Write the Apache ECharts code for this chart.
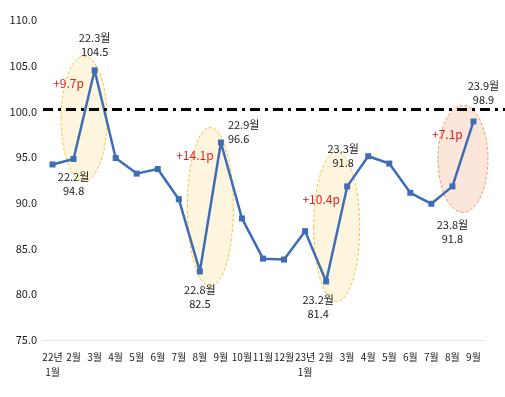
<!DOCTYPE html>
<html>
<head>
<meta charset="utf-8">
<script src="https://cdn.jsdelivr.net/npm/echarts@6/dist/echarts.min.js"></script>
<style>
html, body { margin: 0; padding: 0; background: #fff; }
#main { width: 505px; height: 397px; }
</style>
</head>
<body>
<div id="main"></div>
<script>
// 월별 지수 (22.1 ~ 23.9)
var months = ['22.1','22.2','22.3','22.4','22.5','22.6','22.7','22.8','22.9','22.10','22.11','22.12',
              '23.1','23.2','23.3','23.4','23.5','23.6','23.7','23.8','23.9'];
var xLabels = ['22년\n1월','2월','3월','4월','5월','6월','7월','8월','9월','10월','11월','12월',
               '23년\n1월','2월','3월','4월','5월','6월','7월','8월','9월'];
var values = [94.2, 94.8, 104.5, 94.9, 93.2, 93.7, 90.4, 82.5, 96.6, 88.3, 83.9, 83.8,
              86.9, 81.4, 91.8, 95.1, 94.3, 91.1, 89.9, 91.8, 98.9];
var yMin = 75, yMax = 110, yStep = 5;
var baseLine = 100;
// 급등 구간 (저점 index) 과 상승폭
var jumpFrom = [1, 7, 13, 19];
var jumpText = ['+9.7p', '+14.1p', '+10.4p', '+7.1p'];
var labeled = [1, 2, 7, 8, 13, 14, 19, 20];

var FONT = "'Noto Sans CJK KR', sans-serif";
var BLUE = '#3f6db5';

// 라벨 위치
var labelPlace = {
	1:  { position: 'bottom', distance: 8 },
	2:  { position: 'top', distance: 8 },
	7:  { position: 'bottom', distance: 8 },
	8:  { position: 'right', distance: 4, offset: [0, -11], align: 'left' },
	13: { position: 'bottom', distance: 8, offset: [-8, 0] },
	14: { position: 'top', distance: 14, offset: [-4, 0] },
	19: { position: 'bottom', distance: 28 },
	20: { position: 'top', distance: 12, offset: [10, 0] }
};

var seriesData = values.map(function (v, i) {
	if (labeled.indexOf(i) < 0) return v;
	var p = labelPlace[i];
	return {
		value: v,
		label: {
			show: true,
			position: p.position,
			distance: p.distance,
			offset: p.offset || [0, 0],
			formatter: months[i] + '월\n' + v.toFixed(1),
			fontFamily: FONT,
			fontSize: 11,
			lineHeight: 14,
			color: '#1a1a1a',
			align: p.align || 'center'
		}
	};
});

var myChart = echarts.init(document.getElementById('main'));
var option = {
	animation: false,
	backgroundColor: '#fff',
	grid: { left: 42, right: 21, top: 20, bottom: 57 },
	xAxis: {
		type: 'category',
		data: xLabels,
		boundaryGap: true,
		axisLine: { lineStyle: { color: '#e3e3e3', width: 1 } },
		axisTick: { show: false },
		axisLabel: {
			interval: 0,
			margin: 10,
			fontFamily: FONT,
			fontSize: 10,
			lineHeight: 15,
			color: '#1a1a1a',
			verticalAlign: 'top'
		},
		splitLine: { show: false }
	},
	yAxis: {
		type: 'value',
		min: yMin,
		max: yMax,
		interval: yStep,
		axisLine: { show: false },
		axisTick: { show: false },
		splitLine: { show: false },
		axisLabel: {
			margin: 5,
			fontFamily: FONT,
			fontSize: 11,
			color: '#1a1a1a',
			formatter: function (v) { return v.toFixed(1); }
		}
	},
	series: [{
		type: 'line',
		data: seriesData,
		symbol: 'rect',
		symbolSize: 6,
		z: 4,
		lineStyle: { color: BLUE, width: 2.5 },
		itemStyle: { color: BLUE },
		label: { show: false }
	}]
};
myChart.setOption(option);

// 타원, 상승폭, 기준선 (축 좌표에서 계산)
function px(i, v) { return myChart.convertToPixel({ gridIndex: 0 }, [i, v]); }
var ellPad = [18, 15, 27, 21];
var ellShift = [4, 0, -7, 5];
var graphics = [];
jumpFrom.forEach(function (i, k) {
	var lo = px(i, values[i]);
	var hi = px(i + 1, values[i + 1]);
	var last = k === jumpFrom.length - 1;
	graphics.push({
		type: 'ellipse',
		z: 0,
		shape: {
			cx: (lo[0] + hi[0]) / 2,
			cy: (lo[1] + hi[1]) / 2 + ellShift[k],
			rx: last ? 25 : 23,
			ry: Math.abs(lo[1] - hi[1]) / 2 + ellPad[k]
		},
		style: {
			fill: last ? 'rgba(250, 222, 204, 0.75)' : 'rgba(253, 243, 214, 0.8)',
			stroke: last ? '#e8a070' : '#f2c842',
			lineWidth: 1,
			lineDash: [3, 2]
		}
	});
	graphics.push({
		type: 'text',
		z: 6,
		x: lo[0] - 5,
		y: hi[1] + 13,
		style: {
			text: jumpText[k],
			fontFamily: FONT,
			fontSize: 12,
			fill: '#e02020',
			align: 'center',
			verticalAlign: 'middle'
		}
	});
});
var b0 = px(0, baseLine);
graphics.push({
	type: 'line',
	z: 5,
	shape: { x1: 43, y1: b0[1] - 2, x2: 505, y2: b0[1] - 2 },
	style: { stroke: '#000', lineWidth: 3, lineDash: [10, 5, 3, 5] }
});
myChart.setOption({ graphic: graphics });
</script>
</body>
</html>
